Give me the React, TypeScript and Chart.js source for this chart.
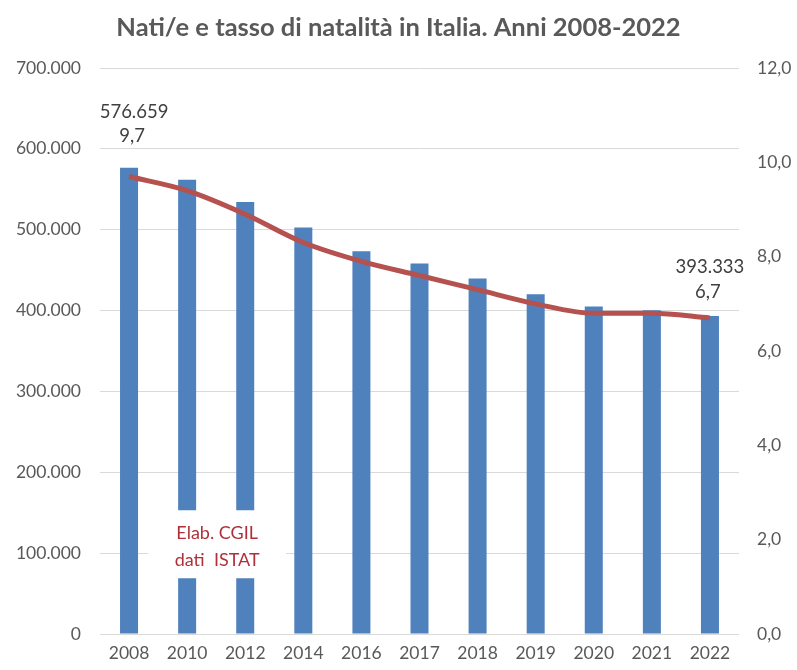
import { useEffect, useRef } from "react";
import { Chart, registerables } from "chart.js";

Chart.register(...registerables);

const years = ["2008", "2010", "2012", "2014", "2016", "2017", "2018", "2019", "2020", "2021", "2022"];
const births = [576659, 561944, 534186, 502596, 473438, 458151, 439747, 420084, 404892, 400249, 393333];
const birthRate = [9.7, 9.4, 8.9, 8.3, 7.9, 7.6, 7.3, 7.0, 6.8, 6.8, 6.7];
const titleText = "Nati/e e tasso di natalità in Italia. Anni 2008-2022";
const sourceLines = ["Elab. CGIL", "dati  ISTAT"];

const FONT = "Lato, 'Liberation Sans', sans-serif";
const GREY = "#595959";

function fmtThousands(v: number) {
    const s = Math.round(v).toString();
    return s.replace(/\B(?=(\d{3})+(?!\d))/g, ".");
}

function fmtRate(v: number) {
    return v.toFixed(1).replace(".", ",");
}

const overlayPlugin = {
    id: "overlay",
    afterDatasetsDraw(chart: any) {
        const { ctx, scales } = chart;
        const x = scales.x;
        const yL = scales.y;
        const yR = scales.y1;

        ctx.save();
        // title
        ctx.fillStyle = GREY;
        ctx.font = `bold 25.5px ${FONT}`;
        ctx.textAlign = "center";
        ctx.textBaseline = "middle";
        ctx.fillText(titleText, chart.width / 2, 28);

        // value labels on first and last point
        ctx.font = `18.5px ${FONT}`;
        ctx.fillStyle = "#404040";
        const first = 0;
        const last = years.length - 1;
        const fx = x.getPixelForValue(first) + 5;
        const fy = yR.getPixelForValue(birthRate[first]);
        ctx.fillText(fmtThousands(births[first]), fx, fy - 64);
        ctx.fillText(fmtRate(birthRate[first]), fx - 2, fy - 40);
        const lx = x.getPixelForValue(last);
        const ly = yR.getPixelForValue(birthRate[last]);
        ctx.fillText(fmtThousands(births[last]), lx, ly - 51);
        ctx.fillText(fmtRate(birthRate[last]), lx - 2, ly - 26);

        // source box
        const bx = (x.getPixelForValue(1) + x.getPixelForValue(2)) / 2 + 1;
        const by = yL.getPixelForValue(111000);
        ctx.fillStyle = "#ffffff";
        ctx.fillRect(bx - 69, by - 34, 138, 68);
        ctx.fillStyle = "#B0303A";
        ctx.font = `18px ${FONT}`;
        ctx.fillText(sourceLines[0], bx, by - 11);
        ctx.fillText(sourceLines[1], bx, by + 16);
        ctx.restore();
    }
};

export default function App() {
    const canvasRef = useRef<HTMLCanvasElement | null>(null);
    const chartRef = useRef<Chart | null>(null);

    useEffect(() => {
        if (!canvasRef.current) return;
        if (chartRef.current) { chartRef.current.destroy(); }

        chartRef.current = new Chart(canvasRef.current, {
            type: "bar",
            data: {
                labels: years,
                datasets: [
                    {
                        type: "line",
                        label: "Tasso di natalità",
                        data: birthRate,
                        yAxisID: "y1",
                        borderColor: "#B5514F",
                        borderWidth: 5,
                        pointRadius: 0,
                        tension: 0.4,
                        cubicInterpolationMode: "monotone",
                        order: 0,
                    } as any,
                    {
                        type: "bar",
                        label: "Nati/e",
                        data: births,
                        yAxisID: "y",
                        backgroundColor: "#4F81BD",
                        barPercentage: 0.31,
                        categoryPercentage: 1,
                        order: 1,
                    },
                ],
            },
            options: {
                responsive: false,
                animation: false,
                layout: { padding: { top: 68, left: 0, right: 0, bottom: 0 } },
                plugins: {
                    legend: { display: false },
                    title: { display: false },
                    tooltip: { enabled: false },
                },
                scales: {
                    x: {
                        grid: { display: false, drawTicks: false },
                        border: { display: false },
                        ticks: {
                            color: GREY,
                            font: { family: FONT, size: 17.5 },
                            padding: 9,
                            maxRotation: 0,
                            autoSkip: false,
                        },
                        afterFit: (s: any) => { s.height = 36; },
                    },
                    y: {
                        position: "left",
                        min: 0,
                        max: 700000,
                        grid: { color: "#D9D9D9", lineWidth: 1, drawTicks: false },
                        border: { display: false },
                        ticks: {
                            stepSize: 100000,
                            color: GREY,
                            font: { family: FONT, size: 17.5 },
                            padding: 19,
                            callback: (v: any) => fmtThousands(Number(v)),
                        },
                        afterFit: (s: any) => { s.width = 100; },
                    },
                    y1: {
                        position: "right",
                        min: 0,
                        max: 12,
                        grid: { display: false, drawTicks: false },
                        border: { display: false },
                        ticks: {
                            stepSize: 2,
                            color: GREY,
                            font: { family: FONT, size: 17.5 },
                            padding: 18,
                            callback: (v: any) => fmtRate(Number(v)),
                        },
                        afterFit: (s: any) => { s.width = 58; },
                    },
                },
            },
            plugins: [overlayPlugin],
        });

        return () => {
            if (chartRef.current) {
                chartRef.current.destroy();
                chartRef.current = null;
            }
        };
    }, []);

    return (
        <div style={{ position: "fixed", left: 0, top: 0, width: 797, height: 670, background: "#fff" }}>
            <canvas ref={canvasRef} width={797} height={670} style={{ width: 797, height: 670 }} />
        </div>
    );
}
